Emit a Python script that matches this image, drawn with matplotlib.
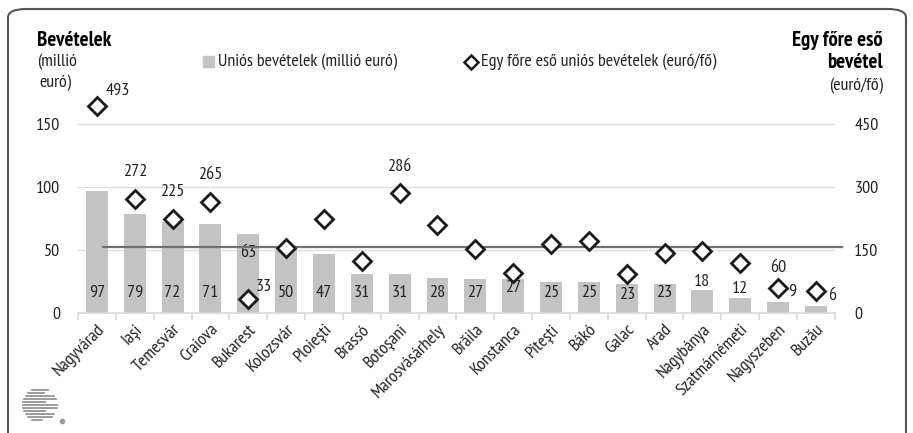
import numpy as np
import matplotlib
matplotlib.use("Agg")
import matplotlib.pyplot as plt
from matplotlib.patches import FancyBboxPatch, Rectangle
from matplotlib.lines import Line2D

plt.rcParams['font.family'] = ['PT Sans Narrow', 'DejaVu Sans']

cities = ['Nagyvárad', 'Iaşi', 'Temesvár', 'Craiova', 'Bukarest', 'Kolozsvár', 'Ploieşti',
          'Brassó', 'Botoşani', 'Marosvásárhely', 'Brăila', 'Konstanca', 'Piteşti', 'Bákó',
          'Galac', 'Arad', 'Nagybánya', 'Szatmárnémeti', 'Nagyszeben', 'Buzău']
income = [97, 79, 72, 71, 63, 50, 47, 31, 31, 28, 27, 27, 25, 25, 23, 23, 18, 12, 9, 6]
per_capita = [493, 272, 225, 265, 33, 155, 224, 124, 286, 210, 152, 95, 164, 171, 93,
              143, 148, 119, 60, 52]
average = 157
labelled = {0: 493, 1: 272, 2: 225, 3: 265, 4: 33, 8: 286, 18: 60}

FS = 13
TFS = 15
TXT = '#222222'

fig = plt.figure(figsize=(9.13, 4.33), dpi=100)
ax = fig.add_axes([0.0854, 0.277, 0.829, 0.509])
ax2 = ax.twinx()

x = np.arange(len(cities))
ax.bar(x, income, width=0.58, color='#c3c3c3', zorder=2)
ax.set_xlim(-0.5, len(cities) - 0.5)
ax.set_ylim(0, 175)
ax.set_yticks([0, 50, 100, 150])
for v in [50, 100, 150]:
    ax.axhline(v, color='#dedede', lw=1, zorder=1)

# bar labels (mostly inside near the base, a few moved like in the original)
lab_y = {4: 48, 11: 20, 14: 14, 16: 24.6, 17: 19, 18: 16.7, 19: 13.5}
lab_dx = {18: 0.37, 19: 0.42}
for i, v in enumerate(income):
    ax.text(i + lab_dx.get(i, 0), lab_y.get(i, 16), str(v), ha='center', va='center',
            fontsize=FS, color=TXT, zorder=5)

ax2.set_ylim(0, 525)
ax2.set_yticks([0, 150, 300, 450])
ax2.plot(x, per_capita, ls='none', marker='D', ms=9, mfc='white', mec='#1a1a1a',
         mew=2, zorder=4)
ax2.plot([0.15, 19.7], [average, average], color='#707070', lw=1.6, zorder=3,
         clip_on=False)

offs = {0: (15, 11), 4: (11, 9), 18: (0, 14)}
for i, v in labelled.items():
    dx, dy = offs.get(i, (0, 19))
    ax2.annotate(str(v), (i, per_capita[i]), xytext=(dx, dy), textcoords='offset points',
                 ha='center', va='center', fontsize=FS, color=TXT)

for a in (ax, ax2):
    for s in ['top', 'left', 'right']:
        a.spines[s].set_visible(False)
ax2.spines['bottom'].set_visible(False)
ax.spines['bottom'].set_color('#d9d9d9')
ax.spines['bottom'].set_linewidth(1.2)

ax.set_xticks(x)
ax.set_xticklabels(cities, rotation=45, ha='right', rotation_mode='anchor', fontsize=FS,
                   color=TXT)
ax.set_xticks(np.arange(len(cities) + 1) - 0.5, minor=True)
ax.tick_params(axis='x', which='major', length=0, pad=6)
ax.tick_params(axis='x', which='minor', length=5, color='#d9d9d9', width=1.2)
ax.tick_params(axis='y', length=0, pad=13, labelsize=FS, labelcolor=TXT)
ax2.tick_params(axis='y', length=0, pad=14, labelsize=FS, labelcolor=TXT)

# titles
fig.text(37 / 913, 1 - 40 / 433, 'Bevételek', fontsize=TFS, fontweight='bold', va='center')
fig.text(37 / 913, 1 - 62 / 433, '(millió', fontsize=FS, va='center', color=TXT)
fig.text(39 / 913, 1 - 83 / 433, 'euró)', fontsize=FS, va='center', color=TXT)
fig.text(883 / 913, 1 - 40 / 433, 'Egy főre eső', fontsize=TFS, fontweight='bold',
         va='center', ha='right')
fig.text(883 / 913, 1 - 63 / 433, 'bevétel', fontsize=TFS, fontweight='bold',
         va='center', ha='right')
fig.text(883 / 913, 1 - 86 / 433, '(euró/fő)', fontsize=FS, va='center', ha='right',
         color=TXT)

# legend
fig.patches.append(Rectangle((203 / 913, 1 - 67 / 433), 11 / 913, 11 / 433,
                             transform=fig.transFigure, color='#c3c3c3'))
fig.text(218 / 913, 1 - 62 / 433, 'Uniós bevételek (millió euró)', fontsize=FS,
         va='center', color=TXT)
fig.lines.append(Line2D([471 / 913], [1 - 62 / 433], marker='D', ms=7, mfc='white',
                        mec='#1a1a1a', mew=1.8, transform=fig.transFigure))
fig.text(481 / 913, 1 - 62 / 433, 'Egy főre eső uniós bevételek (euró/fő)', fontsize=FS,
         va='center', color=TXT)

# frame
fig.patches.append(FancyBboxPatch((8 / 913, -0.1), 898 / 913, 1 - 9 / 433 + 0.1,
                                  boxstyle='round,pad=0,rounding_size=0.02',
                                  transform=fig.transFigure, fill=False,
                                  ec='#555555', lw=1.5))

# small striped logo
cx, cy, r = 40, 405, 17
for k, dy in enumerate(np.linspace(-15, 15, 11)):
    hw = np.sqrt(max(r * r - dy * dy, 0))
    x0 = cx - hw
    x1 = cx + hw * (0.3 if k % 3 == 1 else 1.0)
    fig.lines.append(Line2D([x0 / 913, x1 / 913], [1 - (cy + dy) / 433] * 2,
                            color='#8a8a8a', lw=1.2, transform=fig.transFigure))
fig.lines.append(Line2D([62 / 913], [1 - 421 / 433], marker='o', ms=3, color='#999999',
                        transform=fig.transFigure))

fig.savefig('out.png', dpi=100)
